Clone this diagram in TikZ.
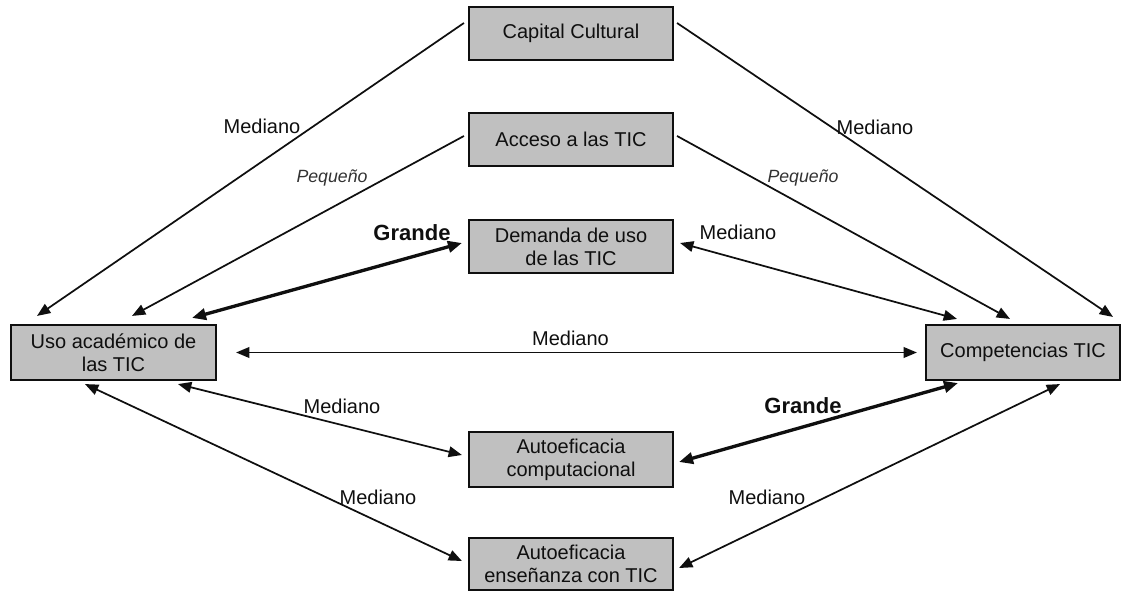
\documentclass[tikz,border=0pt]{standalone}
\usepackage{fontspec}
\setmainfont{Liberation Sans}
\usetikzlibrary{arrows.meta,calc}
\definecolor{boxgray}{RGB}{192,192,192}
\definecolor{labelgray}{RGB}{50,50,50}
\definecolor{ink}{RGB}{15,15,15}
\begin{document}
\begin{tikzpicture}[x=0.75pt,y=-0.75pt,
  box/.style={draw=ink,line width=1.6pt,fill=boxgray,align=center,inner sep=0pt,
    font=\fontsize{15}{17.25}\selectfont,text=ink},
  wide/.style={minimum width=153pt},
  lbl/.style={inner sep=0pt,text=ink,font=\fontsize{15}{17.25}\selectfont},
  small/.style={inner sep=0pt,text=labelgray,font=\fontsize{13.3}{15}\selectfont\itshape},
  big/.style={inner sep=0pt,text=ink,font=\fontsize{16.5}{19}\selectfont\bfseries},
  link/.style={draw=ink,line width=1.3pt,-{Triangle[length=10pt,width=8pt]}},
  both/.style={draw=ink,line width=1.3pt,{Triangle[length=10pt,width=8pt]}-{Triangle[length=10pt,width=8pt]}},
  heavy/.style={draw=ink,line width=2.5pt,{Triangle[length=10.5pt,width=8.5pt]}-{Triangle[length=10.5pt,width=8.5pt]}},
]
\useasboundingbox (0,0) rectangle (1122,592);

% factors
\node[box,wide,minimum height=39.75pt] (capital) at (571,33.5) {Capital Cultural};
\node[box,wide,minimum height=39.75pt] (acceso) at (571,139.5) {Acceso a las TIC};
\node[box,wide,minimum height=39.75pt] (demanda) at (571,246.5) {Demanda de uso\\de las TIC};
\node[box,wide,minimum height=41.25pt] (autocomp) at (571,459.5) {Autoeficacia\\computacional};
\node[box,wide,minimum height=39pt] (autoens) at (571,564) {Autoeficacia\\enseñanza con TIC};
\node[box,minimum width=153.75pt,minimum height=41.25pt] (uso) at (113.5,352.5) {Uso académico de\\las TIC};
\node[box,minimum width=145.5pt,minimum height=41.25pt] (comp) at (1023,352.5) {Competencias TIC};

% connectors towards the academic use box
\draw[link] ($(capital.west)+(-4,-10.5)$) -- ($(uso.north)+(-76.5,-8)$);
\draw[link] ($(acceso.west)+(-4,-3.5)$) -- ($(uso.north)+(18.5,-8)$);
\draw[heavy] ($(uso.north)+(78.5,-6)$) -- ($(demanda.west)+(-6,-3.5)$);

% connectors towards the ICT competences box
\draw[link] ($(capital.east)+(3,-10.5)$) -- ($(comp.north)+(90,-7)$);
\draw[link] ($(acceso.east)+(3,-3.5)$) -- ($(comp.north)+(-13,-5)$);
\draw[both] ($(demanda.east)+(6,-3.5)$) -- ($(comp.north)+(-66,-5)$);

% horizontal link
\draw[both] ($(uso.east)+(19,0)$) -- ($(comp.west)+(-8,0)$);

% lower links
\draw[both] ($(uso.south)+(64.5,3)$) -- ($(autocomp.west)+(-6,-4.5)$);
\draw[both] ($(uso.south)+(-28.5,3)$) -- ($(autoens.west)+(-6,-3)$);
\draw[heavy] ($(comp.south)+(-65,2)$) -- ($(autocomp.east)+(5,2.5)$);
\draw[both] ($(comp.south)+(37,3)$) -- ($(autoens.east)+(5,4)$);

% effect sizes
\node[lbl] (l1) at (262,126) {Mediano};
\node[small] (l2) at (332,178) {Pequeño};
\node[big] (l3) at (412,233) {Grande};
\node[lbl] (r1) at (875,127) {Mediano};
\node[small] (r2) at (803,178) {Pequeño};
\node[lbl] (r3) at (738,232) {Mediano};
\node[lbl] (h1) at (570.5,338) {Mediano};
\node[lbl] (b1) at (342,406) {Mediano};
\node[lbl] (b2) at (378,497) {Mediano};
\node[big] (b3) at (803,406) {Grande};
\node[lbl] (b4) at (767,497) {Mediano};
\end{tikzpicture}
\end{document}
